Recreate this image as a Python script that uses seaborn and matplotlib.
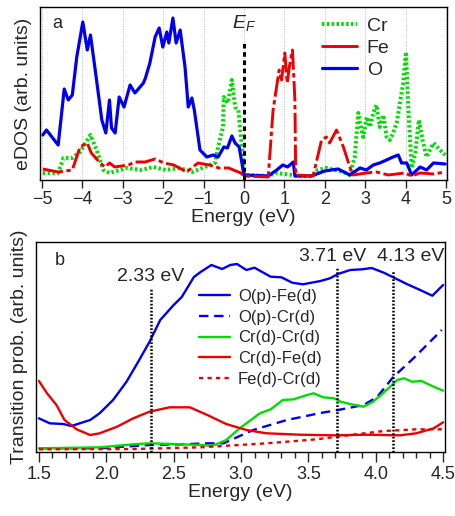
import numpy as np
import pandas as pd
import matplotlib
matplotlib.use("Agg")
import matplotlib.pyplot as plt
import seaborn as sns

sns.set_style("ticks")
plt.rcParams['font.family'] = ['Liberation Sans', 'DejaVu Sans']
plt.rcParams['mathtext.fontset'] = 'custom'
plt.rcParams['mathtext.it'] = 'Liberation Sans:italic'

# ---------- panel a : eDOS ----------
o_e = [-4.98, -4.89, -4.6, -4.45, -4.35, -4.25, -4.14, -3.99, -3.88, -3.80, -3.65, -3.52,
       -3.42, -3.33, -3.28, -3.19, -3.09, -2.97, -2.82, -2.70, -2.49, -2.44, -2.33, -2.20,
       -2.10, -2.01, -1.91, -1.86, -1.76, -1.68, -1.58, -1.46, -1.38, -1.29, -1.23, -1.09,
       -0.92, -0.76, -0.64, -0.50, -0.41, -0.30, -0.22, -0.12, 0.0, 0.6, 0.81, 0.96, 1.08,
       1.22, 1.26, 1.67, 2.0, 2.33, 2.62, 2.87, 3.03, 3.2, 3.36, 3.53, 3.69, 3.82, 3.9,
       4.03, 4.15, 4.36, 4.52, 4.69, 4.98]
o_v = [45, 50, 35, 91, 80, 85, 123, 158, 130, 145, 100, 60,
       47, 80, 52, 47, 83, 73, 95, 87, 97, 102, 117, 143,
       152, 133, 148, 137, 162, 137, 150, 113, 73, 82, 70, 30,
       23, 25, 23, 33, 32, 44, 37, 33, 5, 4, 10, 15, 13,
       18, 4, 4, 9, 11, 5, 12, 10, 15, 17, 20, 23, 25, 17,
       17, 5, 13, 10, 17, 16]

fe_e = [-4.98, -4.6, -4.25, -4.06, -3.88, -3.78, -3.56, -3.44, -3.33, -3.2, -2.86, -2.7,
        -2.45, -2.2, -1.98, -1.74, -1.42, -1.14, -0.86, -0.62, -0.38, -0.08, 0.0, 0.6,
        0.72, 0.87, 0.93, 1.01, 1.07, 1.13, 1.2, 1.26, 1.28, 1.71, 1.92, 2.04, 2.12,
        2.29, 2.46, 2.62, 2.7, 3.03, 3.28, 3.57, 3.98, 4.15, 4.36, 4.69, 4.98]
fe_v = [11, 8, 10, 33, 37, 27, 17, 13, 17, 13, 15, 18,
        18, 21, 17, 15, 8, 17, 15, 12, 12, 7, 4, 3,
        70, 110, 100, 127, 97, 115, 130, 80, 5, 4, 40, 43, 37,
        50, 33, 13, 5, 7, 8, 5, 7, 4, 7, 6, 8]

cr_e = [-4.98, -4.6, -4.47, -4.25, -4.06, -3.8, -3.65, -3.48, -3.33, -2.9, -2.55, -2.25,
        -1.93, -1.6, -1.27, -0.97, -0.72, -0.64, -0.52, -0.5, -0.4, -0.3, -0.22, -0.14,
        -0.04, 0.0, 0.6, 0.8, 1.0, 1.2, 1.3, 1.7, 1.83, 2.04, 2.46, 2.62, 2.74, 2.83,
        2.87, 2.95, 3.04, 3.12, 3.2, 3.28, 3.36, 3.45, 3.53, 3.61, 3.69, 3.78, 3.86,
        3.94, 4.01, 4.07, 4.15, 4.24, 4.33, 4.42, 4.52, 4.69, 4.85, 4.98]
cr_v = [7, 7, 22, 22, 28, 45, 30, 10, 7, 12, 10, 13,
        10, 12, 8, 13, 17, 33, 53, 83, 77, 100, 73, 70,
        27, 5, 4, 7, 6, 5, 4, 4, 10, 12, 8, 5, 23, 67,
        57, 43, 63, 53, 67, 75, 53, 65, 43, 40, 47, 57, 77,
        97, 128, 70, 12, 27, 60, 40, 23, 37, 30, 25]

ef_e = [0.0, 0.0]
ef_v = [0, 140]

# ---------- panel b : transition probabilities ----------
ofe_e = [1.5, 1.58, 1.68, 1.74, 1.88, 1.95, 2.05, 2.15, 2.23, 2.32, 2.40, 2.50, 2.56,
         2.65, 2.70, 2.78, 2.86, 2.92, 2.97, 3.04, 3.10, 3.22, 3.30, 3.38, 3.46, 3.59,
         3.66, 3.72, 3.81, 3.90, 3.97, 4.06, 4.13, 4.23, 4.33, 4.42, 4.50]
ofe_v = [33.7, 28.7, 28, 26, 32, 38.7, 52, 70.3, 88.7, 110, 132, 147, 155,
         175, 180, 187, 183, 187, 188, 182, 184.3, 175.3, 174.7, 169.3, 167.7, 171,
         173.7, 178, 182, 182.7, 184, 179.3, 174.7, 168, 162, 156.3, 167]

ocr_e = [1.5, 1.95, 2.32, 2.57, 2.75, 2.87, 3.09, 3.34, 3.59, 3.72, 3.91, 4.01, 4.13,
         4.28, 4.49]
ocr_v = [3.7, 3.7, 7, 7.7, 8.7, 8.7, 22, 32, 39, 42, 47, 55, 75, 93.7, 122]

crcr_e = [1.5, 1.95, 2.2, 2.32, 2.57, 2.79, 2.89, 2.99, 3.14, 3.22, 3.31, 3.39, 3.49,
          3.54, 3.61, 3.69, 3.74, 3.81, 3.91, 3.98, 4.08, 4.16, 4.21, 4.27, 4.34, 4.43,
          4.50]
crcr_v = [3.7, 4.7, 7.7, 8.7, 7.7, 6.3, 12, 23.7, 38.7, 42.7, 52, 52.7, 57,
          58.7, 54.7, 53.7, 50.3, 48, 45.3, 50.3, 62, 72, 73.7, 70.3, 71, 65.3,
          61.3]

crfe_e = [1.5, 1.56, 1.63, 1.69, 1.78, 1.88, 1.95, 2.08, 2.2, 2.32, 2.47, 2.62, 2.75,
          2.89, 3.04, 3.19, 3.44, 3.69, 3.93, 4.18, 4.3, 4.43, 4.5]
crfe_v = [71, 58.7, 47, 32, 22.7, 17, 18.7, 25.3, 33.7, 40.3, 44.7, 44.7, 37,
          28, 22, 18.7, 17.3, 16.7, 17.3, 16.7, 18.7, 23.7, 29.7]

fecr_e = [1.5, 2.2, 2.7, 3.19, 3.56, 3.81, 4.06, 4.3, 4.5]
fecr_v = [2.7, 3, 4.7, 8.7, 12.7, 17, 21, 22.7, 22.7]

marks_e = [2.33, 3.71, 4.13]
marks_top = [164, 184, 181]
marks_txt = ["2.33 eV", "3.71 eV", "4.13 eV"]

blue = "#0000ee"
red = "#ee0000"
green = "#00dd00"

fig = plt.figure(figsize=(4.55, 5.16), dpi=100)
ax1 = fig.add_axes([0.0879, 0.6512, 0.8945, 0.3352])
ax2 = fig.add_axes([0.0791, 0.124, 0.8989, 0.407])

# panel a
for xs in range(-5, 6):
    ax1.axvline(xs, color="#bbbbbb", lw=0.7, ls=(0, (1, 1.5)), zorder=0)
sns.lineplot(x=o_e, y=o_v, ax=ax1, color=blue, lw=2.3, zorder=3)
sns.lineplot(x=fe_e, y=fe_v, ax=ax1, color=red, lw=2.1, linestyle=(0, (7, 1.2, 1.5, 1.2)), zorder=4)
sns.lineplot(x=cr_e, y=cr_v, ax=ax1, color=green, lw=2.9, linestyle=(0, (0.6, 0.6)), zorder=2)
ax1.plot(ef_e, ef_v, color="black", lw=2.2, ls=(0, (1.5, 1.2)), zorder=5)
ax1.text(0.0, 147, "$E_F$", ha="center", va="bottom", fontsize=14)
ax1.text(-4.75, 157, "a", fontsize=13, ha="left", va="center")
ax1.set_xlim(-5.05, 5.025)
ax1.set_ylim(0, 173)
ax1.set_xticks(range(-5, 6))
ax1.set_yticks([])
ax1.set_xlabel("Energy (eV)", fontsize=14, labelpad=1)
ax1.set_ylabel("eDOS (arb. units)", fontsize=14, labelpad=6)
ax1.tick_params(axis="x", direction="out", length=6, width=1, labelsize=13, pad=2)
h_cr, = ax1.plot([], [], color=green, lw=2.9, ls=(0, (0.6, 0.6)))
h_fe, = ax1.plot([], [], color=red, lw=2.1)
h_o, = ax1.plot([], [], color=blue, lw=2.3)
ax1.legend([h_cr, h_fe, h_o], ["Cr", "Fe", "O"], loc="upper left",
           bbox_to_anchor=(0.693, 0.94), frameon=False, fontsize=14,
           handlelength=1.8, handletextpad=0.5, labelspacing=0.22,
           borderpad=0, borderaxespad=0)

# panel b
sns.lineplot(x=ofe_e, y=ofe_v, ax=ax2, color=blue, lw=1.7, label="O(p)-Fe(d)")
sns.lineplot(x=ocr_e, y=ocr_v, ax=ax2, color=blue, lw=1.7, linestyle=(0, (4, 2.4)), label="O(p)-Cr(d)")
sns.lineplot(x=crcr_e, y=crcr_v, ax=ax2, color=green, lw=1.7, label="Cr(d)-Cr(d)")
sns.lineplot(x=crfe_e, y=crfe_v, ax=ax2, color=red, lw=1.7, label="Cr(d)-Fe(d)")
sns.lineplot(x=fecr_e, y=fecr_v, ax=ax2, color=red, lw=1.7, linestyle=(0, (1.8, 1.8)), label="Fe(d)-Cr(d)")
for xe, top, txt in zip(marks_e, marks_top, marks_txt):
    ax2.plot([xe, xe], [0, top], color="black", lw=1.8, ls=(0, (0.7, 0.7)), zorder=5)
ax2.text(2.33, 176, marks_txt[0], ha="center", va="center", fontsize=14)
ax2.text(3.68, 196, marks_txt[1], ha="center", va="center", fontsize=14)
ax2.text(4.51, 196, marks_txt[2], ha="right", va="center", fontsize=14)
ax2.text(1.62, 192, "b", fontsize=13, ha="left", va="center")
ax2.set_xlim(1.478, 4.514)
ax2.set_ylim(0, 210)
ax2.set_xticks(np.arange(1.5, 4.51, 0.5))
ax2.set_xticks(np.arange(1.5, 4.51, 0.1), minor=True)
ax2.set_xticklabels(["1.5", "2.0", "2.5", "3.0", "3.5", "4.0", "4.5"])
ax2.set_yticks([])
ax2.set_xlabel("Energy (eV)", fontsize=14, labelpad=1)
ax2.set_ylabel("Transition prob. (arb. units)", fontsize=14, labelpad=6)
ax2.tick_params(axis="x", which="major", direction="out", length=7, width=1, labelsize=13, pad=3)
ax2.tick_params(axis="x", which="minor", direction="out", length=4, width=1)
ax2.legend(loc="upper left", bbox_to_anchor=(0.398, 0.776), frameon=False, fontsize=12,
           handlelength=1.85, handletextpad=0.5, labelspacing=0.34,
           borderpad=0, borderaxespad=0)

for ax in (ax1, ax2):
    for s in ax.spines.values():
        s.set_visible(True)
        s.set_linewidth(1.0)
        s.set_color("black")

fig.savefig("out.png", dpi=100)
